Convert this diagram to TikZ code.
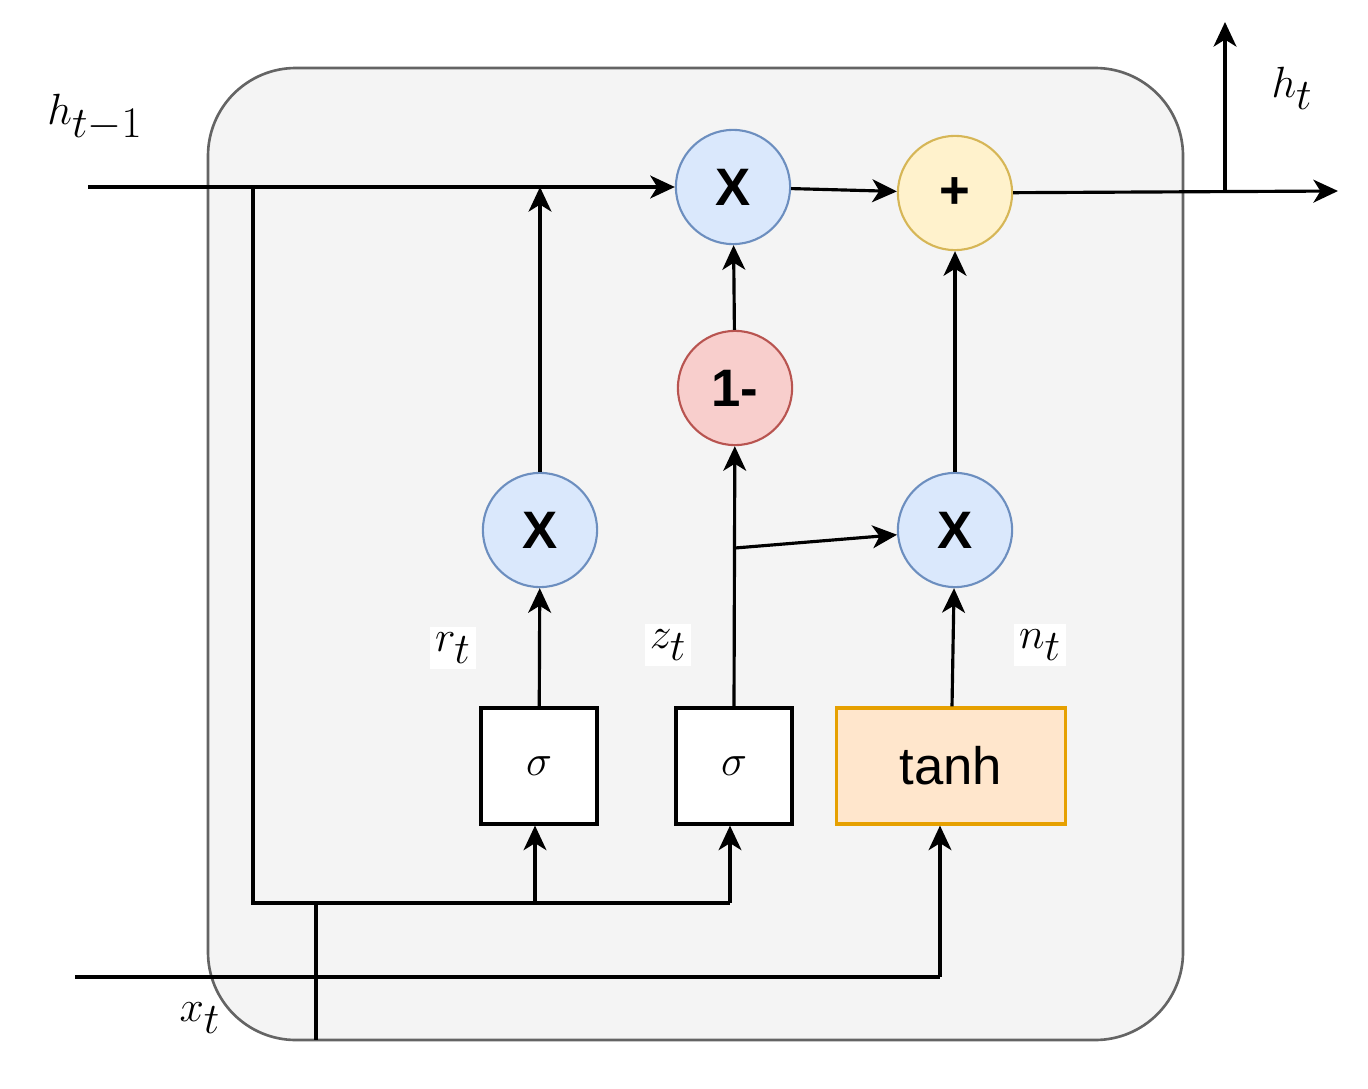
\documentclass[tikz,border=0pt]{standalone}
\usepackage{fontspec}
\setmainfont{Latin Modern Roman}
\newfontfamily\mysf{Liberation Sans}
\usetikzlibrary{arrows.meta}
\begin{document}
\begin{tikzpicture}[x=0.02cm,y=-0.02cm,
  ln/.style={line width=1.8pt},
  ar/.style={ln,-{Stealth[length=14pt,width=13pt,inset=4pt]}},
  op/.style={circle,minimum size=65pt,inner sep=0pt,line width=1.2pt,font=\mysf\bfseries\fontsize{30}{32}\selectfont},
  blue/.style={op,fill={rgb,255:red,218;green,232;blue,252},draw={rgb,255:red,108;green,142;blue,191}},
  lab/.style={fill=white,inner sep=3pt,font=\fontsize{36}{40}\selectfont}]
\useasboundingbox (0,0) rectangle (1368,1088);
\draw[fill={rgb,255:red,244;green,244;blue,244},draw={rgb,255:red,100;green,100;blue,100},line width=1.5pt,rounded corners=50pt] (208,68) rectangle (1183,1040);
\node[blue] (m1) at (733,187) {X};
\node[op,fill={rgb,255:red,255;green,242;blue,204},draw={rgb,255:red,214;green,182;blue,86}] (p) at (955,193) {+};
\node[op,fill={rgb,255:red,248;green,206;blue,204},draw={rgb,255:red,184;green,84;blue,80}] (om) at (735,388) {1-};
\node[blue] (ml) at (540,530) {X};
\node[blue] (mr) at (955,530) {X};
\node[draw,ln,fill=white,minimum width=66pt,minimum height=66pt,font=\fontsize{36}{40}\selectfont] (s1) at (539,766) {$\sigma$};
\node[draw,ln,fill=white,minimum width=66pt,minimum height=66pt,font=\fontsize{36}{40}\selectfont] (s2) at (734,766) {$\sigma$};
\node[draw={rgb,255:red,230;green,160;blue,0},line width=1.8pt,fill={rgb,255:red,255;green,230;blue,204},minimum width=130pt,minimum height=66pt,font=\mysf\fontsize{30}{32}\selectfont] (th) at (951,766) {tanh};
\node[font=\fontsize{36}{40}\selectfont] at (95,118) {$h_{t-1}$};
\node[font=\fontsize{40}{44}\selectfont] at (1292,88) {$h_t$};
\node[font=\fontsize{36}{40}\selectfont] at (200,1018) {$x_t$};
\node[lab] at (453,648) {$r_t$};
\node[lab] at (668,645) {$z_t$};
\node[lab] at (1040,645) {$n_t$};
\coordinate (a) at (88,187); \coordinate (b) at (253,187); \coordinate (c) at (540,187);
\coordinate (d) at (253,903); \coordinate (e) at (730,903); \coordinate (f) at (535,903); \coordinate (g) at (316,903);
\coordinate (gg) at (316,1040); \coordinate (x0) at (75,977); \coordinate (x1) at (940,977);
\coordinate (br) at (735,548); \coordinate (o1) at (1225,191); \coordinate (o2) at (1225,22); \coordinate (o3) at (1338,191);
\draw[ar] (a) -- (m1);
\draw[ln] (b) -- (d) -- (e);
\draw[ar] (ml) -- (c);
\draw[ar] (m1) -- (p);
\draw[ar] (om) -- (m1);
\draw[ar] (s2.north) -- (om);
\draw[ar] (br) -- (mr);
\draw[ar] (mr) -- (p);
\draw[ar] (s1) -- (ml);
\draw[ar] (th) -- (mr);
\draw[ar] (f) -- (f|-s1.south);
\draw[ar] (e) -- (e|-s2.south);
\draw[ln] (g) -- (gg);
\draw[ln] (x0) -- (x1);
\draw[ar] (x1) -- (x1|-th.south);
\draw[ar] (p) -- (o3);
\draw[ar] (o1) -- (o2);
\end{tikzpicture}
\end{document}
